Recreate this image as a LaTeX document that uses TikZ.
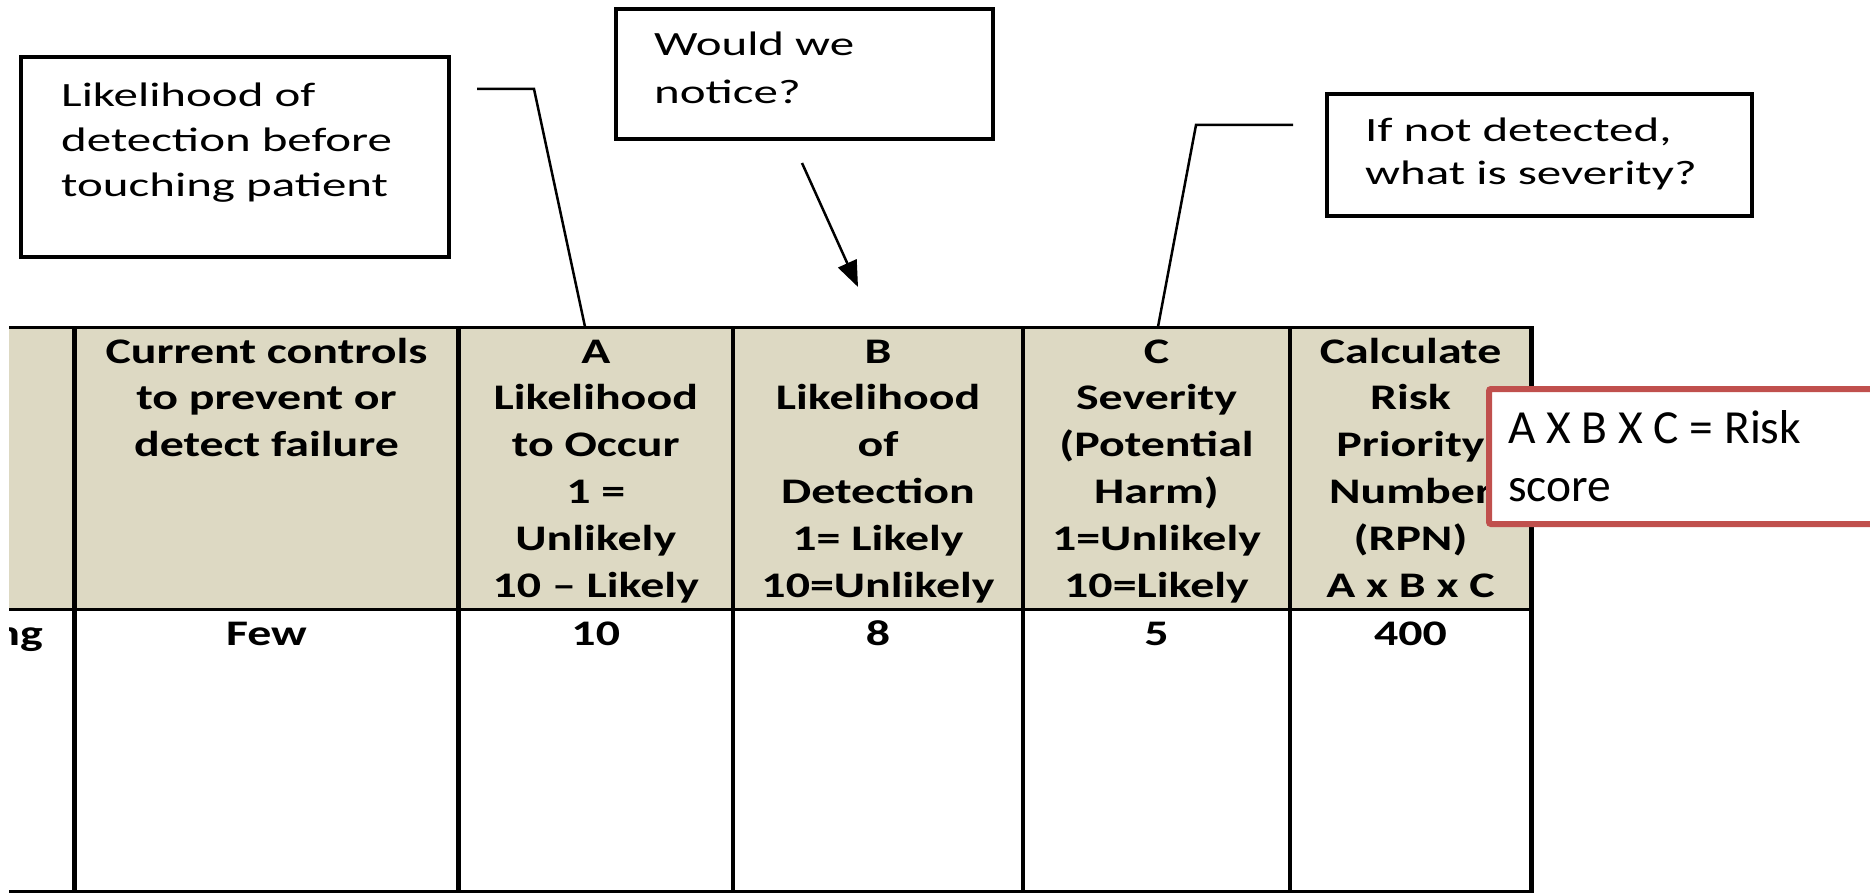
\documentclass[tikz,border=0pt]{standalone}
\usepackage{fontspec}
\usepackage{graphicx}
\setmainfont{Carlito}
\usetikzlibrary{arrows.meta}

\definecolor{hdrfill}{HTML}{DDD9C3}
\definecolor{calloutred}{HTML}{C0504D}

% horizontally widened text, as the sheet prints it
\newcommand\hwide[1]{\scalebox{1.33}[1]{#1}}
\newcommand\cwide[1]{\scalebox{1.44}[1]{#1}}

\tikzset{
  hdrcell/.style={fill=hdrfill, draw=none, inner sep=0pt, minimum height=282pt},
  bodycell/.style={fill=white, draw=none, inner sep=0pt, minimum height=281pt},
  tbltxt/.style={anchor=base, inner sep=0pt, font=\fontsize{36}{47}\selectfont\bfseries},
  notebox/.style={draw=black, line width=3.5pt, fill=white, inner sep=0pt},
  notetxt/.style={anchor=base west, inner sep=0pt, font=\fontsize{34}{45}\selectfont},
  hrule/.style={line width=3.5pt},
  vthick/.style={line width=5pt},
  vthin/.style={line width=4pt},
  conn/.style={line width=2.5pt, line join=miter},
  redbox/.style={draw=calloutred, line width=6pt, fill=white, rounded corners=2pt, inner sep=0pt},
  redtxt/.style={anchor=base west, inner sep=0pt, font=\fontsize{47.5}{58}\selectfont},
}

\newcommand\hdrlines[3]{%
  \foreach \t [count=\i] in {#3}
    \node[tbltxt] (#1-\i) at (#2,{363+46.8*(\i-1)}) {\hwide{\t}};%
}

\begin{document}
\begin{tikzpicture}[x=1pt,y=-1pt]
\useasboundingbox (0,0) rectangle (1870,893);

% ---- header row cells ----
\node[hdrcell, minimum width=65.5pt]  (hL)  at (41.75,468) {};
\node[hdrcell, minimum width=384pt]   (hCC) at (266.5,468) {};
\node[hdrcell, minimum width=274.5pt] (hA)  at (595.75,468) {};
\node[hdrcell, minimum width=290pt]   (hB)  at (878,468) {};
\node[hdrcell, minimum width=267pt]   (hC)  at (1156.5,468) {};
\node[hdrcell, minimum width=241pt]   (hR)  at (1410.5,468) {};

% ---- body row cells ----
\node[bodycell, minimum width=65.5pt]  (bL)  at (41.75,750.5) {};
\node[bodycell, minimum width=384pt]   (bCC) at (266.5,750.5) {};
\node[bodycell, minimum width=274.5pt] (bA)  at (595.75,750.5) {};
\node[bodycell, minimum width=290pt]   (bB)  at (878,750.5) {};
\node[bodycell, minimum width=267pt]   (bC)  at (1156.5,750.5) {};
\node[bodycell, minimum width=241pt]   (bR)  at (1410.5,750.5) {};

% ---- header texts ----
\hdrlines{tCC}{266.5}{Current controls,to prevent or,detect failure}
\hdrlines{tA}{595.75}{A,Likelihood,to Occur,1 =,Unlikely,10 – Likely}
\hdrlines{tB}{878}{B,Likelihood,of,Detection,1= Likely,10=Unlikely}
\hdrlines{tC}{1156.5}{C,Severity,{(Potential},{Harm)},1=Unlikely,10=Likely}
\hdrlines{tR}{1410.5}{Calculate,Risk,Priority,Number,{(RPN)},A x B x C}

% ---- body texts ----
\begin{scope}
  \clip (9,612) rectangle (72,890);
  \node[tbltxt, anchor=base east] (vL) at (43,645) {\hwide{ng}};
\end{scope}
\node[tbltxt] (vCC) at (266.5,645) {\hwide{Few}};
\node[tbltxt] (vA)  at (595.75,645) {\hwide{10}};
\node[tbltxt] (vB)  at (878,645) {\hwide{8}};
\node[tbltxt] (vC)  at (1156.5,645) {\hwide{5}};
\node[tbltxt] (vR)  at (1410.5,645) {\hwide{400}};

% ---- grid ----
\draw[hrule] (9,327.5) -- (1533.5,327.5);
\draw[hrule] (9,609.5) -- (1533.5,609.5);
\draw[hrule] (9,891.5) -- (1533.5,891.5);
\draw[vthick] (hCC.north west) -- (bCC.south west);
\draw[vthick] (hA.north west) -- (bA.south west);
\draw[vthin]  (hB.north west) -- (bB.south west);
\draw[vthin]  (hC.north west) -- (bC.south west);
\draw[vthin]  (hR.north west) -- (bR.south west);
\draw[vthick] (hR.north east) -- (bR.south east);

% ---- callout boxes ----
\node[notebox, minimum width=428pt, minimum height=200pt] (n1) at (235,157) {};
\node[notetxt] (n1a) at (61,107) {\cwide{Likelihood of}};
\node[notetxt] (n1b) at (61,152) {\cwide{detection before}};
\node[notetxt] (n1c) at (61,197) {\cwide{touching patient}};

\node[notebox, minimum width=377pt, minimum height=130pt] (n2) at (804.5,74) {};
\node[notetxt] (n2a) at (654,56) {\cwide{Would we}};
\node[notetxt] (n2b) at (654,104) {\cwide{notice?}};

\node[notebox, minimum width=425pt, minimum height=122pt] (n3) at (1539.5,155) {};
\node[notetxt] (n3a) at (1365,142) {\cwide{If not detected,}};
\node[notetxt] (n3b) at (1365,185) {\cwide{what is severity?}};

% ---- leader lines ----
\coordinate (k1s) at (477,89);
\coordinate (k1b) at (534,89);
\coordinate (k1x) at (585,0);
\draw[conn] (k1s) -- (k1b) -- (k1x |- hA.north);

\coordinate (k2s) at (802,163);
\coordinate (k2e) at (858,287);
\draw[conn, -{Triangle[length=26pt,width=20pt]}] (k2s) -- (k2e);

\coordinate (k3s) at (1293,125);
\coordinate (k3b) at (1196,125);
\coordinate (k3x) at (1158,0);
\draw[conn] (k3s) -- (k3b) -- (k3x |- hC.north);

% ---- RPN note ----
\node[redbox, minimum width=401pt, minimum height=135pt] (rn) at (1689.5,456.5) {};
\node[redtxt] (rna) at (1508,443) {A X B X C = Risk};
\node[redtxt] (rnb) at (1508,501) {score};

\end{tikzpicture}
\end{document}
